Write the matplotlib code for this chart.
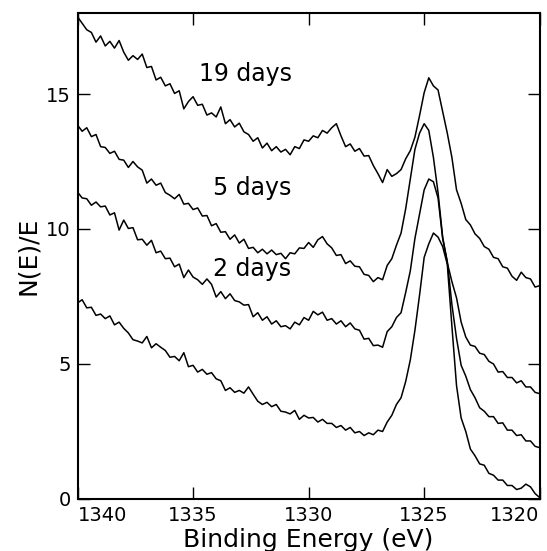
import numpy as np
import matplotlib
matplotlib.use("Agg")
import matplotlib.pyplot as plt

# binding energy grid (eV), 0.2 eV steps from 1340 down to 1320
energy = np.linspace(1340.0, 1320.0, 101)

# N(E)/E, top to bottom
d19 = [17.86, 17.62, 17.38, 17.28, 16.92, 17.15, 16.78, 16.95, 16.70, 16.98,
       16.55, 16.25, 16.42, 16.28, 16.48, 15.98, 16.02, 15.52, 15.62, 15.30,
       15.38, 15.02, 15.12, 14.45, 14.72, 14.90, 14.58, 14.62, 14.22, 14.30,
       14.15, 14.52, 13.90, 14.05, 13.78, 13.92, 13.60, 13.50, 13.25, 13.38,
       13.00, 13.18, 12.90, 13.05, 12.85, 12.95, 12.75, 13.05, 12.98, 13.30,
       13.25, 13.45, 13.38, 13.65, 13.55, 13.75, 13.90, 13.45, 13.05, 13.15,
       12.88, 12.98, 12.70, 12.72, 12.35, 12.05, 11.72, 12.20, 11.95, 12.05,
       12.20, 12.60, 12.90, 13.40, 14.20, 15.05, 15.60, 15.30, 15.15, 14.35,
       13.55, 12.65, 11.45, 10.95, 10.35, 10.15, 9.82, 9.65, 9.35, 9.25,
       8.95, 8.90, 8.60, 8.55, 8.25, 8.10, 8.40, 8.20, 8.15, 7.85, 7.90]

d5 = [13.85, 13.62, 13.75, 13.42, 13.50, 13.05, 13.02, 12.80, 12.88, 12.58,
      12.55, 12.28, 12.50, 12.30, 12.18, 11.70, 11.85, 11.62, 11.70, 11.35,
      11.25, 11.12, 11.28, 10.92, 10.95, 10.72, 10.78, 10.48, 10.50, 10.12,
      10.20, 9.88, 9.90, 9.62, 9.78, 9.48, 9.62, 9.28, 9.32, 9.12,
      9.25, 9.08, 9.22, 9.05, 9.10, 8.90, 9.12, 9.08, 9.30, 9.28,
      9.50, 9.32, 9.60, 9.72, 9.45, 9.30, 9.02, 9.05, 8.72, 8.82,
      8.62, 8.60, 8.32, 8.28, 8.05, 8.20, 8.12, 8.65, 8.90, 9.40,
      9.85, 10.75, 11.85, 12.95, 13.55, 13.90, 13.65, 12.65, 11.35, 9.70,
      8.75, 8.05, 7.45, 6.55, 6.00, 5.70, 5.65, 5.40, 5.35, 5.10,
      5.00, 4.70, 4.72, 4.50, 4.50, 4.30, 4.38, 4.15, 4.15, 3.95, 3.90]

d2 = [11.37, 11.15, 11.12, 10.88, 11.00, 10.82, 10.85, 10.52, 10.60, 9.96,
      10.33, 10.02, 10.05, 9.60, 9.62, 9.40, 9.58, 9.12, 9.18, 8.90,
      8.92, 8.60, 8.70, 8.20, 8.48, 8.22, 8.12, 7.95, 8.15, 7.95,
      7.48, 7.68, 7.42, 7.60, 7.35, 7.30, 7.18, 7.20, 6.75, 6.90,
      6.62, 6.75, 6.48, 6.60, 6.38, 6.42, 6.30, 6.55, 6.45, 6.72,
      6.62, 6.95, 6.82, 6.92, 6.62, 6.68, 6.48, 6.60, 6.38, 6.52,
      6.30, 6.25, 5.92, 5.95, 5.68, 5.70, 5.62, 6.20, 6.38, 6.72,
      6.90, 7.65, 8.45, 9.65, 10.55, 11.45, 11.85, 11.75, 11.15, 9.65,
      8.80, 7.20, 5.95, 4.95, 4.55, 4.05, 3.75, 3.38, 3.25, 3.05,
      3.05, 2.80, 2.82, 2.55, 2.55, 2.35, 2.38, 2.15, 2.15, 1.95, 1.90]

d0 = [7.26, 7.38, 7.08, 7.10, 6.80, 6.85, 6.68, 6.78, 6.45, 6.55,
      6.32, 6.15, 5.90, 5.85, 5.78, 6.02, 5.60, 5.75, 5.62, 5.50,
      5.25, 5.28, 5.12, 5.42, 4.90, 4.95, 4.70, 4.80, 4.62, 4.68,
      4.45, 4.38, 4.02, 4.12, 3.95, 4.02, 3.92, 4.15, 3.88, 3.62,
      3.50, 3.58, 3.42, 3.50, 3.25, 3.22, 3.15, 3.28, 2.95, 3.10,
      3.00, 3.02, 2.85, 2.95, 2.80, 2.80, 2.65, 2.72, 2.55, 2.65,
      2.45, 2.50, 2.35, 2.45, 2.38, 2.55, 2.50, 2.85, 3.10, 3.50,
      3.75, 4.35, 5.15, 6.25, 7.55, 8.95, 9.45, 9.85, 9.70, 9.35,
      8.70, 6.40, 4.20, 3.00, 2.50, 1.85, 1.60, 1.30, 1.25, 0.95,
      0.88, 0.70, 0.70, 0.50, 0.50, 0.35, 0.40, 0.55, 0.45, 0.20, 0.05]

labels = ["19 days", "5 days", "2 days"]
label_pos = [(1332.75, 15.75), (1332.45, 11.5), (1332.45, 8.5)]

fig = plt.figure(figsize=(5.47, 5.51), dpi=100)
ax = fig.add_axes([0.1417, 0.0944, 0.845, 0.882])

for d in (d19, d5, d2, d0):
    ax.plot(energy, d, color="black", lw=1.1)

for txt, (xe, ye) in zip(labels, label_pos):
    ax.text(xe, ye, txt, fontsize=17, ha="center", va="center")

ax.set_xlim(1340, 1320)
ax.set_ylim(0, 18)
ax.set_xticks([1340, 1335, 1330, 1325, 1320])
ax.set_yticks([0, 5, 10, 15])
ax.tick_params(direction="in", length=8.5, width=1.0, labelsize=14,
               top=True, right=True, pad=5)
for s in ax.spines.values():
    s.set_linewidth(1.5)

xl = ax.get_xticklabels()
xl[0].set_horizontalalignment("left")
xl[-1].set_horizontalalignment("right")

ax.set_xlabel("Binding Energy (eV)", fontsize=18, labelpad=2)
ax.set_ylabel("N(E)/E", fontsize=18, labelpad=4)

fig.savefig("out.png", dpi=100)
